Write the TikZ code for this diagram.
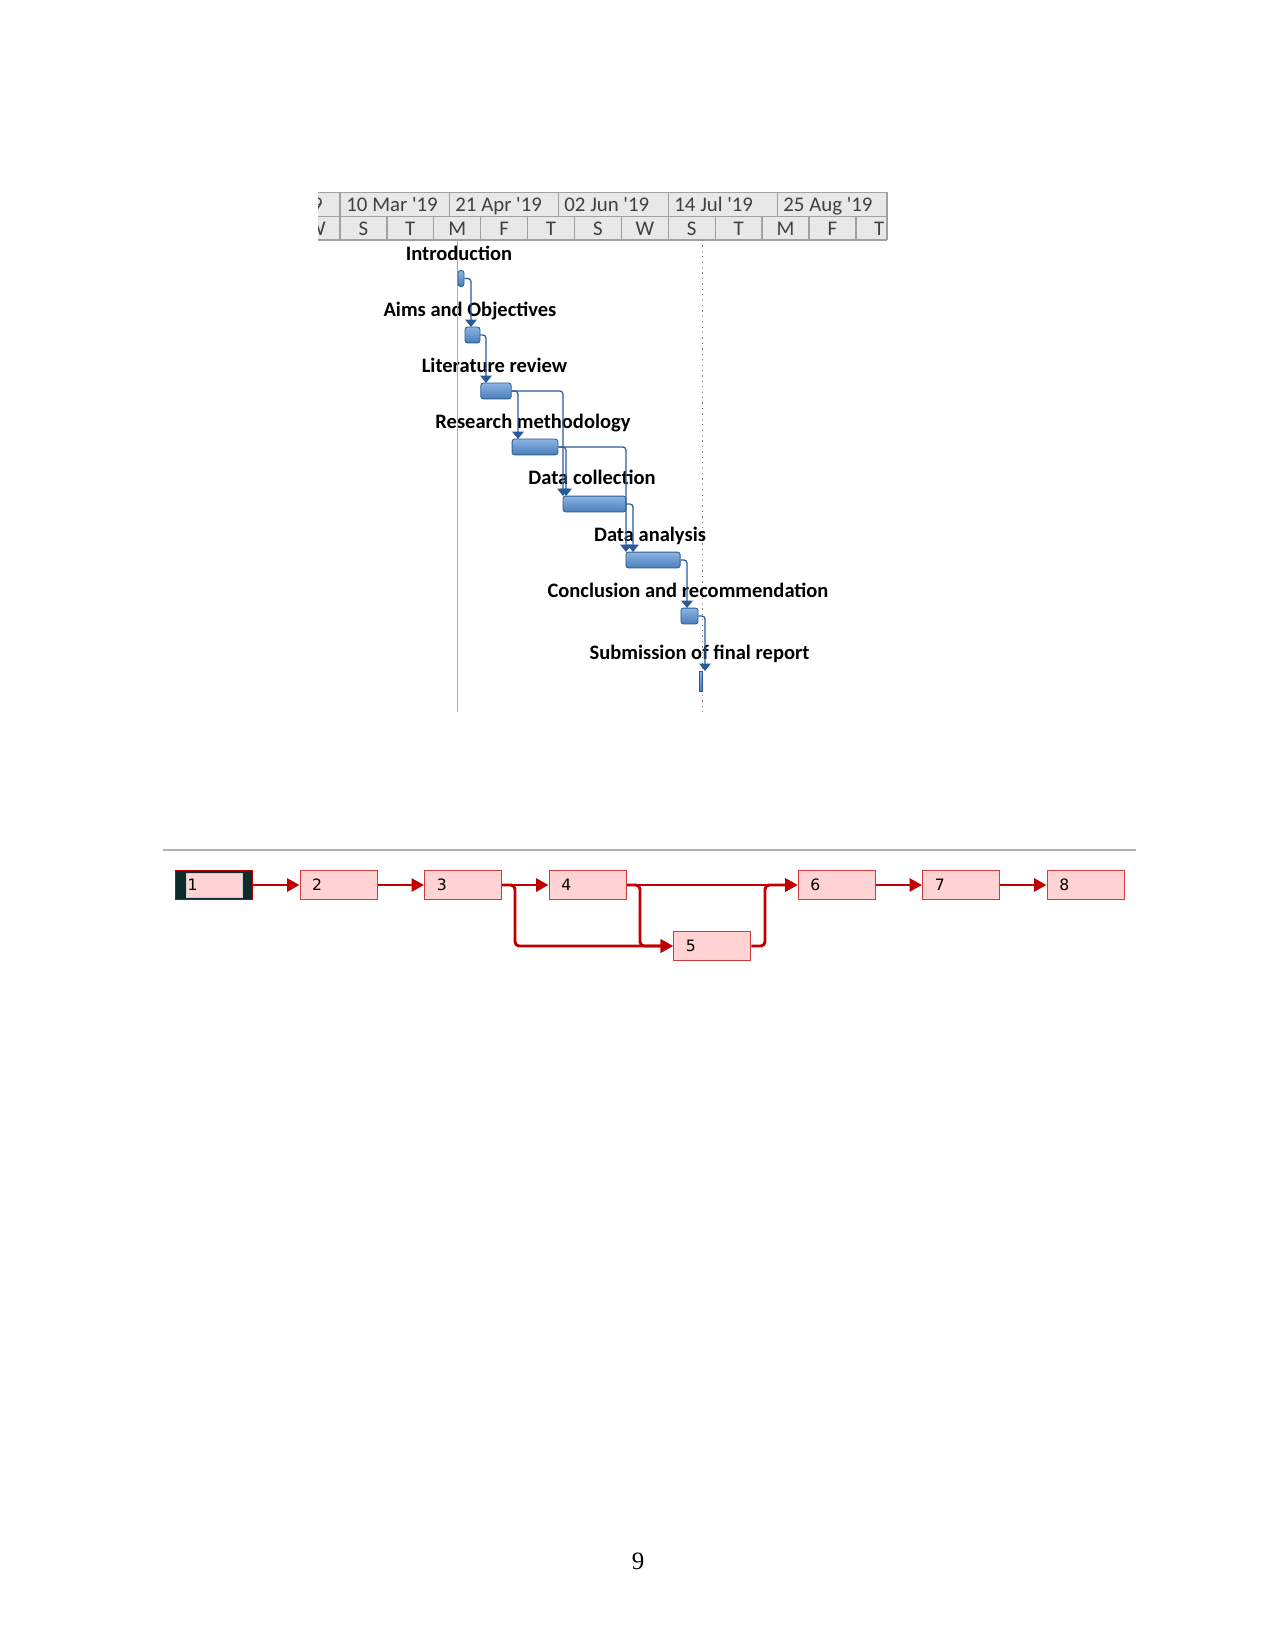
\documentclass[tikz,border=0pt]{standalone}
\usepackage{fontspec}
\setmainfont{Liberation Serif}
\newfontfamily\calfont{Carlito}
\newfontfamily\tahfont{DejaVu Sans}
\usetikzlibrary{arrows.meta,calc}
\definecolor{hdrfill}{HTML}{E8E8E8}
\definecolor{hdrline}{HTML}{A0A0A0}
\definecolor{hdrtext}{HTML}{404040}
\definecolor{todayor}{HTML}{F59A4A}
\definecolor{bartop}{HTML}{8DB3E2}
\definecolor{barbot}{HTML}{4A7EBB}
\definecolor{barline}{HTML}{2C5C92}
\definecolor{depcol}{HTML}{2A5A9A}
\definecolor{nred}{HTML}{C00000}
\definecolor{npink}{HTML}{FFD3D3}
\definecolor{nborder}{HTML}{D03A3A}
\definecolor{ndark}{HTML}{0D2B2B}
\tikzset{
  hdrtxt/.style={font=\calfont\fontsize{10}{12}\selectfont, text=hdrtext, inner sep=0, text height=7pt, text depth=0pt},
  glabel/.style={font=\calfont\bfseries\fontsize{9.85}{12}\selectfont, inner sep=0, text height=7pt, text depth=0pt},
  ganttbar/.style={draw=barline, line width=0.4pt, rounded corners=1.2pt, top color=bartop, bottom color=barbot, inner sep=0, minimum height=7.6pt},
  dep/.style={draw=depcol, line width=0.6pt, rounded corners=1.5pt, -{Triangle[width=5.5pt,length=3.5pt]}},
  nbox/.style={draw=nborder, fill=npink, line width=0.6pt, minimum width=36.96pt, minimum height=13.6pt, text width=25.4pt, align=left, inner xsep=5.8pt, inner ysep=0, font=\tahfont\fontsize{7.5}{8}\selectfont},
  nline/.style={draw=nred, line width=1.4pt, rounded corners=2pt, -{Triangle[width=6.2pt,length=6pt]}},
}
\begin{document}
\begin{tikzpicture}[x=0.48pt,y=-0.48pt]
\useasboundingbox (0,0) rectangle (1275,1650);
% ---------------- timescale header
\begin{scope}
\clip (318,192) rectangle (888,241);
\fill[hdrfill] (318,192) rectangle (887,240);
\draw[hdrline, line width=0.6pt] (318,192.5) -- (887,192.5) (318,216.5) -- (887,216.5) (318,240) -- (887,240) (887,192) -- (887,240);
\foreach \x in {340,449.4,558.8,668.2,777.6} \draw[hdrline, line width=0.6pt] (\x,192) -- (\x,216.5);
\foreach \x in {340,386.9,433.8,480.7,527.6,574.5,621.4,668.3,715.2,762.1,809,855.9} \draw[hdrline, line width=0.6pt] (\x,216.5) -- (\x,240);
\node[hdrtxt, anchor=east] (tp0) at (323,204.5) {'19};
\node[hdrtxt, anchor=west] (tp1) at (346,204.5) {10 Mar '19};
\node[hdrtxt, anchor=west] (tp2) at (455,204.5) {21 Apr '19};
\node[hdrtxt, anchor=west] (tp3) at (564,204.5) {02 Jun '19};
\node[hdrtxt, anchor=west] (tp4) at (674,204.5) {14 Jul '19};
\node[hdrtxt, anchor=west] (tp5) at (783,204.5) {25 Aug '19};
\node[hdrtxt] (bt0) at (316.5,228.5) {W};
\node[hdrtxt] (bt1) at (363.4,228.5) {S};
\node[hdrtxt] (bt2) at (410.3,228.5) {T};
\node[hdrtxt] (bt3) at (457.2,228.5) {M};
\node[hdrtxt] (bt4) at (504.1,228.5) {F};
\node[hdrtxt] (bt5) at (551,228.5) {T};
\node[hdrtxt] (bt6) at (597.9,228.5) {S};
\node[hdrtxt] (bt7) at (644.8,228.5) {W};
\node[hdrtxt] (bt8) at (691.7,228.5) {S};
\node[hdrtxt] (bt9) at (738.6,228.5) {T};
\node[hdrtxt] (bt10) at (785.5,228.5) {M};
\node[hdrtxt] (bt11) at (832.4,228.5) {F};
\node[hdrtxt] (bt12) at (879.3,228.5) {T};
\end{scope}
% ---------------- task labels
\node[glabel] (l1) at (459,253) {Introduction};
\node[glabel] (l2) at (470,309) {Aims and Objectives};
\node[glabel] (l3) at (494.5,365) {Literature review};
\node[glabel] (l4) at (533,421) {Research methodology};
\node[glabel] (l5) at (592,477.5) {Data collection};
\node[glabel] (l6) at (650,534) {Data analysis};
\node[glabel] (l7) at (688,590) {Conclusion and recommendation};
\node[glabel] (l8) at (699.5,652) {Submission of final report};
% ---------------- today line and status line
\coordinate (ot) at (457.6,240);
\coordinate (ob) at (457.6,712);
\coordinate (dt) at (702.7,240);
\coordinate (db) at (702.7,712);
\draw[todayor, line width=0.8pt] (ot) -- (ob);
\draw[gray, line width=0.6pt, dotted] (dt) -- (db);
% ---------------- bars
\node[ganttbar, minimum width=2.9pt] (b1) at (461,278.5) {};
\node[ganttbar, minimum width=7.2pt] (b2) at (472.5,335) {};
\node[ganttbar, minimum width=14.6pt] (b3) at (496,391) {};
\node[ganttbar, minimum width=22pt] (b4) at (535,447) {};
\node[ganttbar, minimum width=30.2pt] (b5) at (594.5,504) {};
\node[ganttbar, minimum width=26pt] (b6) at (653,560) {};
\node[ganttbar, minimum width=8.2pt] (b7) at (689.5,616) {};
\node[ganttbar, minimum width=1.4pt, minimum height=9.6pt, rounded corners=0pt] (b8) at (700.5,681) {};
% ---------------- dependencies
\coordinate (t2) at (471,327);
\coordinate (t3) at (486,383);
\coordinate (t4) at (518,439);
\coordinate (t5a) at (563,496);
\coordinate (t5b) at (566,496);
\coordinate (t6a) at (626,552);
\coordinate (t6b) at (633,552);
\coordinate (t7) at (687,608);
\coordinate (t8) at (705,671);
\draw[dep] (b1.east) -| (t2);
\draw[dep] (b2.east) -| (t3);
\draw[dep] (b3.east) -| (t4);
\draw[dep] (b3.east) -| (t5a);
\draw[dep] (b4.east) -| (t5b);
\draw[dep] (b4.east) -| (t6a);
\draw[dep] (b5.east) -| (t6b);
\draw[dep] (b6.east) -| (t7);
\draw[dep] (b7.east) -| (t8);
% ---------------- network diagram
\coordinate (sl) at (163,850);
\coordinate (sr) at (1136,850);
\draw[gray!60, line width=1.2pt] (sl) -- (sr);
\node[nbox, fill=ndark, draw=nred] (n1) at (214.2,885) {};
\fill[npink, draw=gray!40, line width=0.3pt] ($(n1.north west)+(11,2.8)$) rectangle ($(n1.south east)+(-11,-2.8)$);
\node[nbox, draw=none, fill=none, inner xsep=5.6pt] (n1t) at (n1) {1};
\node[nbox] (n2) at (338.7,885) {2};
\node[nbox] (n3) at (463.2,885) {3};
\node[nbox] (n4) at (587.7,885) {4};
\node[nbox] (n5) at (712.2,946) {5};
\node[nbox] (n6) at (836.7,885) {6};
\node[nbox] (n7) at (961.2,885) {7};
\node[nbox] (n8) at (1085.7,885) {8};
\coordinate (j35) at (515,946);
\coordinate (j45) at (640,946);
\coordinate (j56) at (765,885);
\draw[nline] (n1.east) -- (n2.west);
\draw[nline] (n2.east) -- (n3.west);
\draw[nline] (n3.east) -- (n4.west);
\draw[nline] (n4.east) -- (n6.west);
\draw[nline] (n3.east) -| (j35) -- (n5.west);
\draw[nline] (n4.east) -| (j45) -- (n5.west);
\draw[nline] (n5.east) -| (j56) -- (n6.west);
\draw[nline] (n6.east) -- (n7.west);
\draw[nline] (n7.east) -- (n8.west);
% ---------------- page number
\node[font=\fontsize{12}{14}\selectfont, inner sep=0] (pg) at (638,1561) {9};
\end{tikzpicture}
\end{document}
